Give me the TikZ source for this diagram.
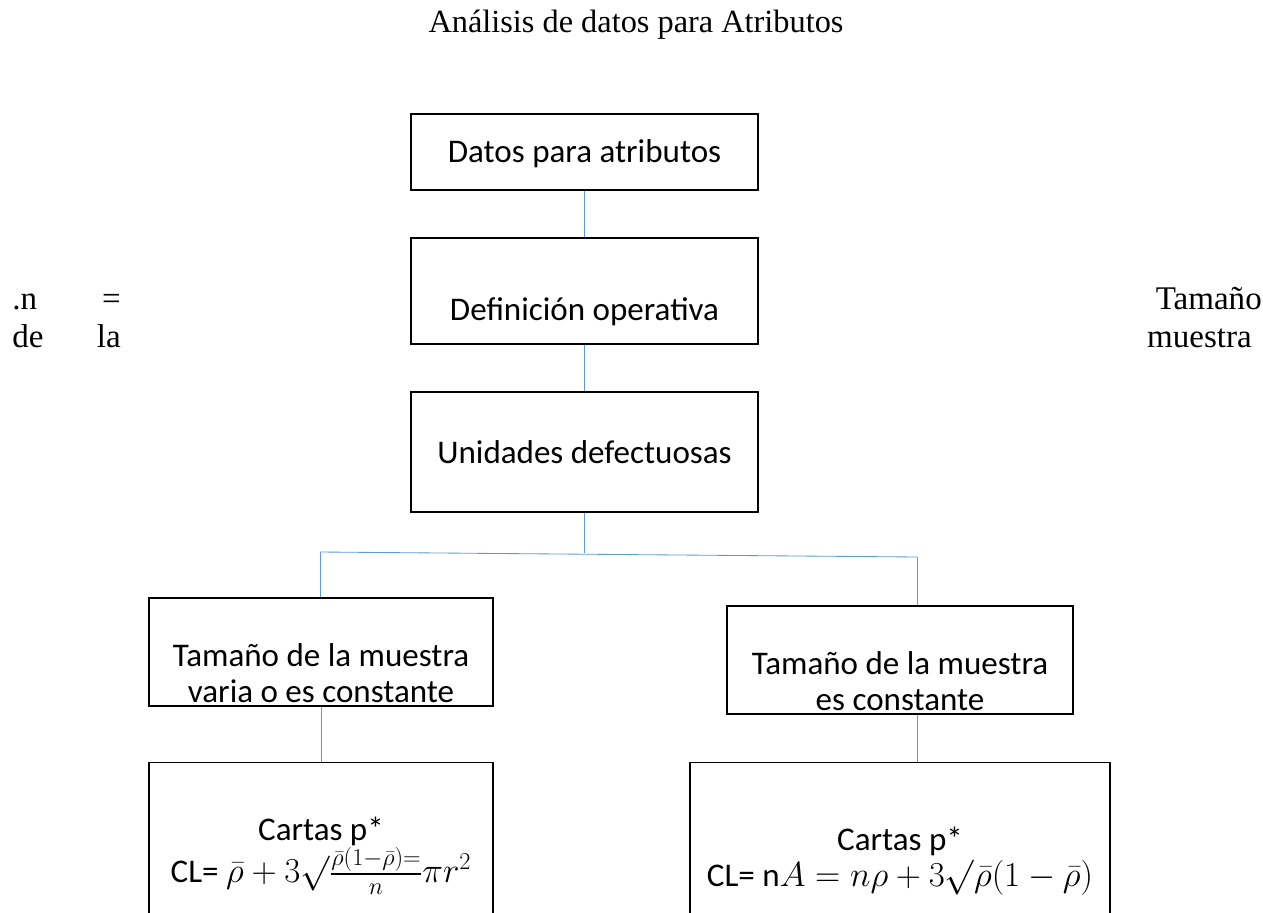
\documentclass[tikz,border=0pt]{standalone}
\usepackage{amsmath}
\usepackage{fontspec}
\setmainfont{Liberation Serif}
\newfontfamily\calibri{Carlito}
\usepackage{tikz}
\usetikzlibrary{calc}
\definecolor{linkblue}{RGB}{91,155,213}
\tikzset{
  box/.style={draw=black, line width=0.9pt, inner sep=0pt},
  boxtext/.style={align=center, font=\calibri\fontsize{23.5}{26}\selectfont},
  link/.style={draw=linkblue, line width=0.6pt},
  side/.style={font=\fontsize{23.5}{26}\selectfont, inner sep=0pt}
  }

\begin{document}
\begin{tikzpicture}[x=0.025cm, y=-0.025cm]
      \clip (0,0) rectangle (1263,913);
      \node[font=\fontsize{23}{26}\selectfont] (title) at (636,25) {Análisis de datos para Atributos};
      % side text
      \node[side, anchor=base west] (n) at (12,309) {.n};
      \node[side, anchor=base east] (eq) at (121,309) {=};
      \node[side, anchor=base west] (de) at (12,347) {de};
      \node[side, anchor=base east] (la) at (121,347) {la};
      \node[side, anchor=base east] (tam) at (1262,309) {Tamaño};
      \node[side, anchor=base east] (mue) at (1252,347) {muestra};
      % boxes
      \node[box, minimum width=8.675cm, minimum height=1.9cm] (datos) at (584.5,152) {};
      \node[box, minimum width=8.675cm, minimum height=2.65cm] (def) at (584.5,291) {};
      \node[box, minimum width=8.675cm, minimum height=3cm] (unid) at (584.5,452) {};
      \node[box, minimum width=8.6cm, minimum height=2.7cm] (left1) at (321,652) {};
      \node[box, minimum width=8.65cm, minimum height=2.7cm] (right1) at (900,660) {};
      \node[box, minimum width=8.6cm, minimum height=5.375cm] (left2) at (321,870) {};
      \node[box, minimum width=10.5cm, minimum height=5.375cm] (right2) at (900,870) {};
      % texts
      \node[boxtext] (datosT) at (584.5,154) {Datos para atributos};
      \node[boxtext] (defT) at (584.5,312) {Definición operativa};
      \node[boxtext] (unidT) at (584.5,452) {Unidades defectuosas};
      \node[boxtext] (left1T) at (321,673) {Tamaño de la muestra\\varia o es constante};
      \node[boxtext] (right1T) at (900,681) {Tamaño de la muestra\\es constante};
      \node[boxtext] (left2T) at (321,856) {Cartas p*\\CL= $\bar{\rho}+3\surd\frac{\bar{\rho}(1-\bar{\rho})=}{n}\pi r^2$};
      \node[boxtext] (right2T) at (900,861) {Cartas p*\\CL= n$A=n\rho+3\surd\bar{\rho}(1-\bar{\rho})$};
      % connectors
      \coordinate (split) at (584.5,553);
      \coordinate (lft) at (320,552);
      \coordinate (rgt) at (917,557);
      \draw[link] (datos.south) -- (def.north);
      \draw[link] (def.south) -- (unid.north);
      \draw[link] (unid.south) -- (split);
      \draw[link] (lft) -- (rgt);
      \draw[link] (lft) -- (lft |- left1.north);
      \draw[link] (rgt) -- (rgt |- right1.north);
      \draw[link] (left1.south) -- (left2.north);
      \draw[link] (right1.south -| rgt) -- (right2.north -| rgt);
    \end{tikzpicture}
\end{document}
